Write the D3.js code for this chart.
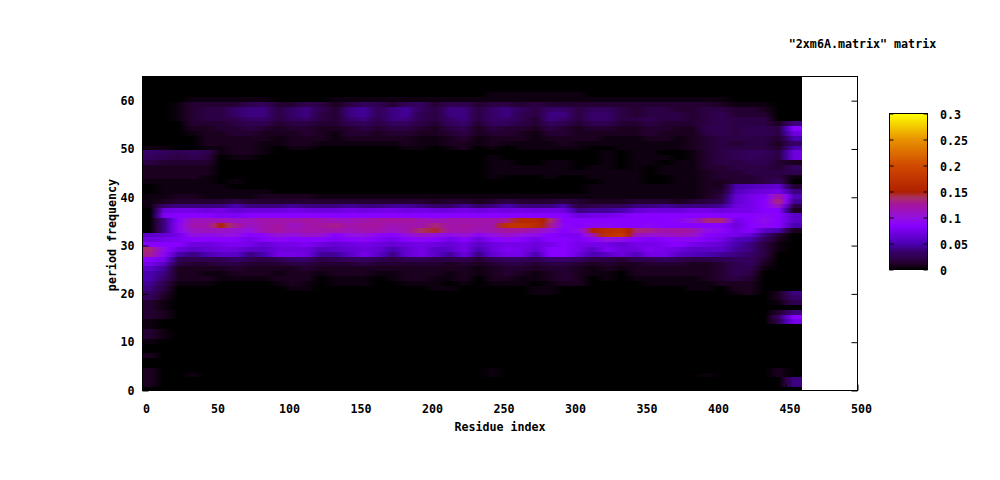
<!DOCTYPE html>
<html><head><meta charset="utf-8">
<script src="https://cdn.jsdelivr.net/npm/d3@7/dist/d3.min.js"></script>
<style>html,body{margin:0;padding:0;background:#fff}svg{display:block}
text{font-family:"DejaVu Sans Mono",monospace;font-size:11.67px;font-weight:bold;fill:#000}</style>
</head><body><svg id="c" width="1000" height="480"></svg>
<script>
const titleText='"2xm6A.matrix" matrix';
const xLabel='Residue index';
const yLabel='period frequency';
const xTicks=[0,50,100,150,200,250,300,350,400,450,500];
const yTicks=[0,10,20,30,40,50,60];
const cbTicks=[0,0.05,0.1,0.15,0.2,0.25,0.3];
const paletteStops=[0,0.01,0.02,0.035,0.05,0.085,0.1,0.125,0.14,0.15,0.2,0.25,0.3];
const paletteColors=['#000000','#1c0020','#2c0044','#360068','#4a00b0','#8800ff','#9210e0','#a414a0','#a83060','#b02000','#d04800','#e89000','#ffff00'];
const columnStarts=[0,10,20,30,40,50,60,70,80,90,100,110,120,130,140,150,160,170,180,190,200,210,220,230,240,250,260,270,280,290,300,310,320,330,340,350,360,370,380,390,400,410,420,430,440,450,461];
const levelUnit=0.005;
// rows from period 65 down to period 0, one value per residue column
const topPeriod=65;
const levels=[
[0,0,0,0,0,0,0,0,0,0,0,0,0,0,0,0,0,0,0,0,0,0,0,0,0,0,0,0,0,0,0,0,0,0,0,0,0,0,0,0,0,0,0,0,0,0],
[0,0,0,0,0,0,0,0,0,0,0,0,0,0,0,0,0,0,0,0,0,0,0,0,0,0,0,0,0,0,0,0,0,0,0,0,0,0,0,0,0,0,0,0,0,0],
[0,0,0,0,0,0,0,0,0,0,0,0,0,0,0,0,0,0,0,0,0,0,0,0,0,0,0,0,0,0,0,0,0,0,0,0,0,0,0,0,0,0,0,0,0,0],
[0,0,0,0,0,0,0,0,0,0,0,0,0,0,0,0,0,0,0,0,0,0,0,0,0,0,0,0,0,0,0,0,0,0,0,0,0,0,0,0,0,0,0,0,0,0],
[0,0,0,0,0,0,0,0,0,0,0,0,0,0,0,0,0,0,0,0,0,0,0,0,1,1,1,1,1,1,1,0,0,0,0,0,0,0,0,0,0,0,0,0,0,0],
[0,0,0,1,1,1,1,1,1,0,0,0,0,1,1,1,1,1,1,1,1,1,1,1,1,1,1,1,1,1,1,1,1,1,1,1,1,1,1,1,1,0,0,0,0,0],
[0,0,1,3,3,3,3,5,6,3,3,5,4,2,4,6,5,3,6,6,3,5,5,3,4,4,3,4,3,3,3,3,3,3,3,3,3,3,3,3,2,1,1,1,0,0],
[0,0,1,3,4,4,7,8,8,4,7,8,5,3,8,9,6,8,9,6,4,8,8,4,7,8,6,4,7,7,4,6,6,4,3,4,4,3,3,4,4,3,3,2,0,0],
[0,0,1,3,4,4,7,8,8,4,7,8,4,3,8,9,6,8,9,5,4,8,8,4,7,8,5,4,8,8,4,7,7,4,3,4,4,4,3,4,5,3,3,3,0,0],
[0,0,1,3,4,4,5,7,7,4,6,7,4,3,7,8,5,8,8,5,4,7,8,4,7,7,5,3,8,7,4,7,7,4,4,5,4,4,3,4,5,4,4,4,0,0],
[0,0,0,3,3,3,4,5,5,3,4,4,3,3,5,6,4,6,6,4,3,6,7,3,6,6,4,3,6,5,3,5,5,3,3,4,3,3,3,4,5,4,4,4,2,8],
[0,0,0,2,2,3,3,4,3,2,3,3,2,2,3,4,3,4,4,3,2,4,5,2,4,3,3,2,4,3,2,3,3,2,2,3,3,2,2,5,5,4,5,5,4,17],
[0,0,0,1,2,2,3,3,2,2,2,3,2,1,3,3,2,3,3,2,2,3,4,2,3,3,2,1,3,3,2,2,2,2,2,3,2,2,2,4,5,4,5,5,4,14],
[0,0,0,0,2,2,2,2,2,1,2,2,2,1,2,2,2,2,2,1,1,2,3,1,2,2,2,1,2,2,2,2,1,1,1,2,2,1,2,3,4,4,4,4,3,10],
[0,0,0,0,2,2,2,2,1,1,2,2,1,1,1,1,1,1,2,1,1,2,2,1,2,1,1,1,1,2,1,1,1,1,1,1,1,1,2,3,4,3,4,4,2,7],
[1,1,0,0,1,1,2,2,1,0,1,1,0,0,0,0,0,0,1,1,0,1,2,0,1,0,1,1,1,1,1,0,0,1,1,1,1,1,2,3,4,4,4,4,3,10],
[7,6,5,6,5,1,2,2,1,0,0,0,0,0,0,0,0,0,0,0,0,0,0,0,0,0,0,0,0,0,0,0,1,0,1,1,0,0,1,3,4,5,6,6,4,14],
[6,5,4,5,4,0,1,1,0,0,0,0,0,0,0,0,0,0,0,0,0,0,0,0,1,0,0,0,0,0,0,0,1,0,1,1,1,0,1,3,4,5,6,5,4,14],
[4,3,3,3,3,0,0,0,0,0,0,0,0,0,0,0,0,0,0,0,0,0,0,0,1,1,0,0,1,1,0,0,1,0,1,1,0,1,1,3,4,4,5,5,3,2],
[2,2,2,2,2,0,0,0,0,0,0,0,0,0,0,0,0,0,0,0,0,0,0,0,1,1,1,1,1,1,0,1,1,0,1,0,1,1,1,3,3,4,4,4,3,6],
[2,2,2,2,2,0,0,0,0,0,0,0,0,0,0,0,0,0,0,0,0,0,0,0,1,1,1,1,1,1,1,1,1,1,1,0,1,1,1,2,3,3,4,4,4,5],
[2,2,2,2,1,0,0,0,0,0,0,0,0,0,0,0,0,0,0,0,0,0,0,0,1,0,0,0,1,0,0,1,1,1,1,0,0,1,1,2,3,3,3,4,4,1],
[1,1,1,1,1,0,1,0,0,0,0,0,0,0,0,0,0,0,0,0,0,0,0,0,0,0,0,0,0,0,0,0,1,1,1,0,0,1,1,2,2,3,3,4,6,0],
[0,1,1,1,1,1,0,0,0,0,0,0,0,0,0,0,0,0,0,0,0,0,0,0,0,0,0,0,0,0,0,1,1,1,1,1,1,1,1,2,2,10,11,12,13,3],
[0,1,1,1,1,1,1,1,1,0,0,0,0,0,0,0,0,0,0,0,0,0,0,0,0,0,0,0,0,0,0,1,1,1,1,1,1,1,1,2,3,11,13,14,15,8],
[1,1,2,2,1,1,1,1,2,2,2,2,1,1,1,1,1,1,1,1,1,1,1,1,1,1,1,1,1,1,1,1,1,1,1,1,1,1,1,2,4,13,15,16,25,11],
[1,2,3,3,3,3,4,3,3,3,3,3,3,3,3,3,3,3,3,3,2,3,3,2,3,4,3,3,3,4,3,2,2,2,3,3,3,2,3,4,5,13,15,17,27,9],
[1,7,8,8,8,8,10,8,8,8,9,8,8,8,9,8,8,9,9,8,7,7,9,7,8,10,8,8,8,10,4,5,6,6,8,8,9,8,8,8,9,14,15,17,22,4],
[0,14,15,15,14,15,13,14,14,14,15,14,14,14,15,14,15,15,14,15,14,14,15,14,15,14,15,14,15,14,8,9,9,10,13,14,14,14,15,15,14,15,15,17,17,2],
[0,16,17,17,17,16,16,17,17,17,17,17,17,17,17,17,17,17,17,17,17,17,17,17,17,17,17,17,17,17,14,15,15,16,17,17,17,17,17,17,17,17,17,18,17,12],
[0,8,17,23,23,23,22,23,24,24,24,25,24,23,23,24,25,25,25,24,23,24,24,24,24,26,32,32,28,17,17,17,17,17,17,17,17,18,20,27,27,15,17,19,17,12],
[0,8,18,24,24,30,26,22,24,25,22,24,25,26,24,25,25,23,24,24,27,24,25,24,24,34,35,33,26,18,17,18,18,17,17,18,17,17,17,17,17,14,17,18,17,10],
[0,8,18,22,23,22,21,20,24,25,23,24,24,24,23,24,24,22,24,28,29,24,24,23,24,25,25,23,20,17,19,30,33,34,27,26,24,25,24,19,18,15,17,12,10,2],
[12,13,15,20,19,20,20,17,18,21,20,22,21,17,20,20,18,17,20,22,20,19,21,18,20,22,20,19,17,16,16,24,34,36,23,21,22,23,22,17,16,15,13,8,3,0],
[14,15,16,17,17,17,17,15,17,18,17,17,17,16,17,18,16,15,17,18,17,15,17,14,17,18,17,15,17,17,16,18,20,19,17,16,17,18,18,16,15,11,10,6,2,0],
[17,17,17,14,14,15,16,15,13,15,15,16,14,13,14,15,14,13,14,15,14,13,15,12,14,15,15,14,15,17,15,15,15,13,15,15,16,17,15,14,13,10,8,4,1,0],
[27,19,14,12,13,14,14,12,12,14,14,14,11,12,13,14,13,10,13,15,12,12,15,10,14,16,15,13,17,17,15,12,16,14,14,16,15,14,12,12,12,9,8,4,1,0],
[26,18,10,8,10,12,12,8,10,15,15,14,9,9,12,15,12,8,13,15,12,9,14,8,13,15,15,10,17,17,14,10,12,14,11,15,15,12,11,10,9,8,7,4,0,0],
[17,15,5,5,5,5,7,5,4,5,7,7,4,5,6,6,5,4,5,5,4,4,5,3,5,6,6,5,7,7,6,4,4,3,5,5,6,5,4,4,5,6,6,3,0,0],
[15,12,4,3,3,4,4,3,3,3,4,4,3,3,3,4,3,3,3,3,3,2,3,2,3,4,4,3,4,4,3,2,3,2,2,3,3,3,2,2,3,5,6,2,0,0],
[12,9,2,2,2,2,3,2,2,2,2,3,2,2,2,2,2,2,2,2,2,2,2,1,2,3,3,2,3,3,2,1,2,1,2,2,2,2,2,2,3,5,5,1,0,0],
[10,8,2,2,1,1,2,2,2,1,2,2,1,2,2,2,1,1,2,2,2,1,2,1,2,3,2,1,2,3,2,1,1,0,2,2,2,2,2,2,3,5,4,0,0,0],
[10,7,2,2,2,1,1,1,1,2,2,2,0,1,1,1,0,1,2,2,1,1,2,0,2,2,1,1,2,3,2,0,1,0,1,1,1,1,1,2,3,4,3,0,0,0],
[9,5,1,1,1,0,0,0,0,1,2,1,0,1,1,1,0,0,1,1,1,0,1,0,1,1,1,0,1,2,2,0,0,0,0,1,1,1,1,1,2,2,2,0,0,0],
[8,4,0,0,0,0,0,0,0,0,1,1,0,0,0,0,0,0,0,0,1,1,0,0,0,0,0,1,1,0,0,0,0,0,0,0,0,0,1,1,0,2,2,0,0,0],
[7,3,0,0,0,0,0,0,0,0,0,0,0,0,0,0,0,0,0,0,0,0,0,0,0,0,0,1,1,0,0,0,0,0,0,0,0,0,0,0,0,1,2,0,2,8],
[6,2,0,0,0,0,0,0,0,0,0,0,0,0,0,0,0,0,0,0,0,0,0,0,0,0,0,0,0,0,0,0,0,0,0,0,0,0,0,0,0,0,0,0,2,7],
[3,1,0,0,0,0,0,0,0,0,0,0,0,0,0,0,0,0,0,0,0,0,0,0,0,0,0,0,0,0,0,0,0,0,0,0,0,0,0,0,0,0,0,0,1,5],
[3,1,0,0,0,0,0,0,0,0,0,0,0,0,0,0,0,0,0,0,0,0,0,0,0,0,0,0,0,0,0,0,0,0,0,0,0,0,0,0,0,0,0,0,0,0],
[3,2,0,0,0,0,0,0,0,0,0,0,0,0,0,0,0,0,0,0,0,0,0,0,0,0,0,0,0,0,0,0,0,0,0,0,0,0,0,0,0,0,0,0,3,8],
[3,2,0,0,0,0,0,0,0,0,0,0,0,0,0,0,0,0,0,0,0,0,0,0,0,0,0,0,0,0,0,0,0,0,0,0,0,0,0,0,0,0,0,0,7,17],
[1,0,0,0,0,0,0,0,0,0,0,0,0,0,0,0,0,0,0,0,0,0,0,0,0,0,0,0,0,0,0,0,0,0,0,0,0,0,0,0,0,0,0,0,5,15],
[1,0,0,0,0,0,0,0,0,0,0,0,0,0,0,0,0,0,0,0,0,0,0,0,0,0,0,0,0,0,0,0,0,0,0,0,0,0,0,0,0,0,0,0,0,0],
[3,1,0,0,0,0,0,0,0,0,0,0,0,0,0,0,0,0,0,0,0,0,0,0,0,0,0,0,0,0,0,0,0,0,0,0,0,0,0,0,0,0,0,0,0,0],
[3,1,0,0,0,0,0,0,0,0,0,0,0,0,0,0,0,0,0,0,0,0,0,0,0,0,0,0,0,0,0,0,0,0,0,0,0,0,0,0,0,0,0,0,0,0],
[1,0,0,0,0,0,0,0,0,0,0,0,0,0,0,0,0,0,0,0,0,0,0,0,0,0,0,0,0,0,0,0,0,0,0,0,0,0,0,0,0,0,0,0,0,0],
[0,0,0,0,0,0,0,0,0,0,0,0,0,0,0,0,0,0,0,0,0,0,0,0,0,0,0,0,0,0,0,0,0,0,0,0,0,0,0,0,0,0,0,0,0,0],
[0,0,0,0,0,0,0,0,0,0,0,0,0,0,0,0,0,0,0,0,0,0,0,0,0,0,0,0,0,0,0,0,0,0,0,0,0,0,0,0,0,0,0,0,0,0],
[2,0,0,0,0,0,0,0,0,0,0,0,0,0,0,0,0,0,0,0,0,0,0,0,0,0,0,0,0,0,0,0,0,0,0,0,0,0,0,0,0,0,0,0,0,0],
[0,0,0,0,0,0,0,0,0,0,0,0,0,0,0,0,0,0,0,0,0,0,0,0,0,0,0,0,0,0,0,0,0,0,0,0,0,0,0,0,0,0,0,0,0,0],
[0,0,0,0,0,0,0,0,0,0,0,0,0,0,0,0,0,0,0,0,0,0,0,0,0,0,0,0,0,0,0,0,0,0,0,0,0,0,0,0,0,0,0,0,0,0],
[2,0,0,0,0,0,0,0,0,0,0,0,0,0,0,0,0,0,0,0,0,0,0,0,1,0,0,0,0,0,0,0,0,0,0,0,0,0,0,0,0,0,0,0,2,0],
[2,0,0,1,0,0,0,0,0,0,0,0,0,0,0,0,0,0,0,0,0,0,0,0,1,0,0,0,0,0,0,0,0,0,0,0,0,0,0,1,0,0,0,0,2,0],
[2,0,0,0,0,0,0,0,0,0,0,0,0,0,0,0,0,0,0,0,0,0,0,0,0,0,0,0,0,0,0,0,0,0,0,0,0,0,0,0,0,0,0,0,0,8],
[2,0,0,0,0,0,0,0,0,0,0,0,0,0,0,0,0,0,0,0,0,0,0,0,0,0,0,0,0,0,0,0,0,0,0,0,0,0,0,0,0,0,0,0,0,8],
[0,0,0,0,0,0,0,0,0,0,0,0,0,0,0,0,0,0,0,0,0,0,0,0,0,0,0,0,0,0,0,0,0,0,0,0,0,0,0,0,0,0,0,0,0,0]
];

const svg=d3.select('#c');
const plot={l:142.5,r:857.5,t:76.5,b:390.5};
const bar={l:889.5,r:927.5,t:113.5,b:269.5};
const x=d3.scaleLinear().domain([0,500]).range([plot.l,plot.r]);
const y=d3.scaleLinear().domain([0,65]).range([plot.b,plot.t]);
const color=d3.scaleLinear().domain(paletteStops).range(paletteColors).interpolate(d3.interpolateRgb);
const cbY=d3.scaleLinear().domain([0,0.3]).range([bar.b,bar.t]);

const defs=svg.append('defs');
defs.append('clipPath').attr('id','pc').append('rect')
  .attr('x',plot.l).attr('y',plot.t).attr('width',plot.r-plot.l).attr('height',plot.b-plot.t);
const heat=svg.append('g').attr('clip-path','url(#pc)').attr('shape-rendering','crispEdges');
levels.forEach((row,ri)=>{
  const p=topPeriod-ri;
  // each cell shades toward its neighbours, as the blurred reference image does
  row.forEach((d,i)=>{
    const a=(d+(i>0?row[i-1]:d))/2, b=(d+(i<row.length-1?row[i+1]:d))/2;
    const g=defs.append('linearGradient').attr('id',`g${ri}_${i}`);
    [[0,a],[0.5,d],[1,b]].forEach(s=>g.append('stop').attr('offset',s[0]).attr('stop-color',color(s[1]*levelUnit)));
  });
  heat.selectAll(null).data(row).enter().append('rect')
    .attr('x',(d,i)=>x(columnStarts[i]))
    .attr('width',(d,i)=>x(columnStarts[i+1])-x(columnStarts[i]))
    .attr('y',y(p+0.7))
    .attr('height',y(p-0.3)-y(p+0.7))
    .attr('fill',(d,i)=>`url(#g${ri}_${i})`);
});

function styleAxis(g){g.select('.domain').remove();g.selectAll('line').attr('stroke','#000').attr('stroke-width',1);
  g.selectAll('text').attr('fill','#000');}
const axLeft=d3.axisLeft(y).tickValues(yTicks).tickSize(-6).tickPadding(8).tickFormat(d3.format('d'));
const axRight=d3.axisRight(y).tickValues(yTicks).tickSize(-6).tickFormat('');
const axBottom=d3.axisBottom(x).tickValues(xTicks).tickSize(-6).tickPadding(14).tickFormat(d3.format('d'));
svg.append('g').attr('transform',`translate(${plot.l},0)`).call(axLeft).call(styleAxis);
svg.append('g').attr('transform',`translate(${plot.r},0)`).call(axRight).call(styleAxis);
const bottomG=svg.append('g').attr('transform',`translate(0,${plot.b})`).call(axBottom).call(styleAxis);
bottomG.selectAll('text').attr('x',3.5);
svg.selectAll('g text').style('font-family','"DejaVu Sans Mono",monospace').style('font-size','11.67px').style('font-weight','bold');
svg.append('rect').attr('x',plot.l).attr('y',plot.t).attr('width',plot.r-plot.l).attr('height',plot.b-plot.t)
  .attr('fill','none').attr('stroke','#000').attr('stroke-width',1);

svg.append('text').attr('x',500).attr('y',431).attr('text-anchor','middle').text(xLabel);
svg.append('text').attr('transform','translate(116,235) rotate(-90)').attr('text-anchor','middle').text(yLabel);
svg.append('text').attr('x',862.5).attr('y',48).attr('text-anchor','middle').text(titleText);

const cbSteps=d3.range(bar.b-bar.t);
const cbG=svg.append('g').attr('shape-rendering','crispEdges');
cbG.selectAll('rect').data(cbSteps).enter().append('rect')
  .attr('x',bar.l).attr('width',bar.r-bar.l)
  .attr('y',d=>bar.b-d-1).attr('height',1)
  .attr('fill',d=>color(cbY.invert(bar.b-d-0.5)));
const cbL=d3.axisLeft(cbY).tickValues(cbTicks).tickSize(-4).tickFormat('');
const cbR=d3.axisRight(cbY).tickValues(cbTicks).tickSize(-4).tickFormat(d3.format('~g'));
svg.append('g').attr('transform',`translate(${bar.l},0)`).call(cbL).call(styleAxis);
const cbRG=svg.append('g').attr('transform',`translate(${bar.r},0)`).call(cbR).call(styleAxis);
cbRG.selectAll('text').attr('x',12.5).attr('y',1).style('font-family','"DejaVu Sans Mono",monospace').style('font-size','11.67px').style('font-weight','bold');
svg.append('rect').attr('x',bar.l).attr('y',bar.t).attr('width',bar.r-bar.l).attr('height',bar.b-bar.t)
  .attr('fill','none').attr('stroke','#000').attr('stroke-width',1);
</script></body></html>
